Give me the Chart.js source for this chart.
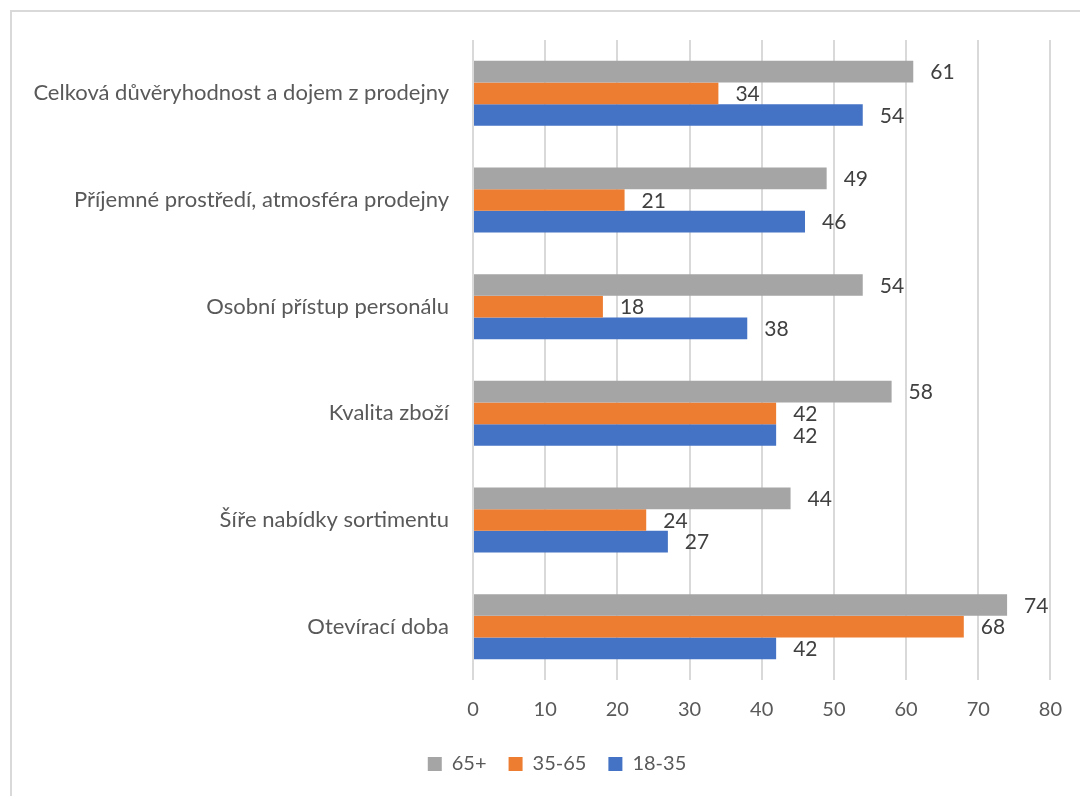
<!DOCTYPE html>
<html>
<head>
<meta charset="utf-8">
<script src="https://cdn.jsdelivr.net/npm/chart.js@4.4.1/dist/chart.umd.min.js"></script>
<style>
    html, body { margin: 0; padding: 0; background: #fff; }
    #frame {
        position: absolute; left: 10px; top: 10px; right: -5px; bottom: -5px;
        border-left: 2px solid #d9d9d9; border-top: 2px solid #d9d9d9;
    }
    #wrap { position: absolute; left: 0; top: 0; width: 1080px; height: 796px; }
</style>
</head>
<body>
<div id="frame"></div>
<div id="wrap"><canvas id="chart" width="1080" height="796"></canvas></div>
<script>
// Categories (top to bottom)
const categories = [
    'Celková důvěryhodnost a dojem z prodejny',
    'Příjemné prostředí, atmosféra prodejny',
    'Osobní přístup personálu',
    'Kvalita zboží',
    'Šíře nabídky sortimentu',
    'Otevírací doba'
];

// Series values
const values65plus = [61, 49, 54, 58, 44, 74];
const values35to65 = [34, 21, 18, 42, 24, 68];
const values18to35 = [54, 46, 38, 42, 27, 42];

const xTicks = [0, 10, 20, 30, 40, 50, 60, 70, 80];

const FONT = 'Lato, Carlito, "Open Sans", sans-serif';

// value labels at the end of each bar
const barLabels = {
    id: 'barLabels',
    afterDatasetsDraw(chart) {
        const ctx = chart.ctx;
        ctx.save();
        ctx.font = '21px ' + FONT;
        ctx.fillStyle = '#404040';
        ctx.textAlign = 'left';
        ctx.textBaseline = 'middle';
        chart.data.datasets.forEach((ds, i) => {
            const meta = chart.getDatasetMeta(i);
            meta.data.forEach((bar, j) => {
                ctx.fillText(String(Math.round(ds.data[j])), bar.x + 17, bar.y + 1);
            });
        });
        ctx.restore();
    }
};

// nudge the legend a bit to the right, like the original
const legendShift = {
    id: 'legendShift',
    afterLayout(chart) {
        if (chart.legend) {
            chart.legend.left += 31;
            chart.legend.right += 31;
        }
    }
};

new Chart(document.getElementById('chart'), {
    type: 'bar',
    data: {
        labels: categories,
        datasets: [
            { label: '65+', data: values65plus, backgroundColor: '#a5a5a5' },
            { label: '35-65', data: values35to65, backgroundColor: '#ed7d31' },
            { label: '18-35', data: values18to35, backgroundColor: '#4472c4' }
        ]
    },
    options: {
        indexAxis: 'y',
        responsive: false,
        animation: false,
        categoryPercentage: 0.61,
        barPercentage: 1.0,
        layout: { padding: { left: 0, right: 28, top: 40, bottom: 12 } },
        plugins: {
            legend: {
                position: 'bottom',
                labels: {
                    boxWidth: 14,
                    boxHeight: 14,
                    padding: 22,
                    color: '#595959',
                    font: { family: FONT, size: 20 }
                }
            },
            tooltip: { enabled: false }
        },
        scales: {
            x: {
                min: 0,
                max: 80,
                afterBuildTicks: function(scale) {
                    scale.ticks = xTicks.map(v => ({ value: v }));
                },
                afterFit: function(scale) {
                    scale.height = 52;
                },
                ticks: {
                    color: '#595959',
                    padding: 18,
                    font: { family: FONT, size: 20 }
                },
                grid: {
                    color: '#d9d9d9',
                    lineWidth: 2,
                    drawTicks: false
                },
                border: { display: false }
            },
            y: {
                afterFit: function(scale) {
                    scale.width = 473;
                },
                ticks: {
                    color: '#595959',
                    padding: 16,
                    font: { family: FONT, size: 22 }
                },
                grid: { display: false },
                border: { display: false }
            }
        }
    },
    plugins: [barLabels, legendShift]
});
</script>
</body>
</html>
